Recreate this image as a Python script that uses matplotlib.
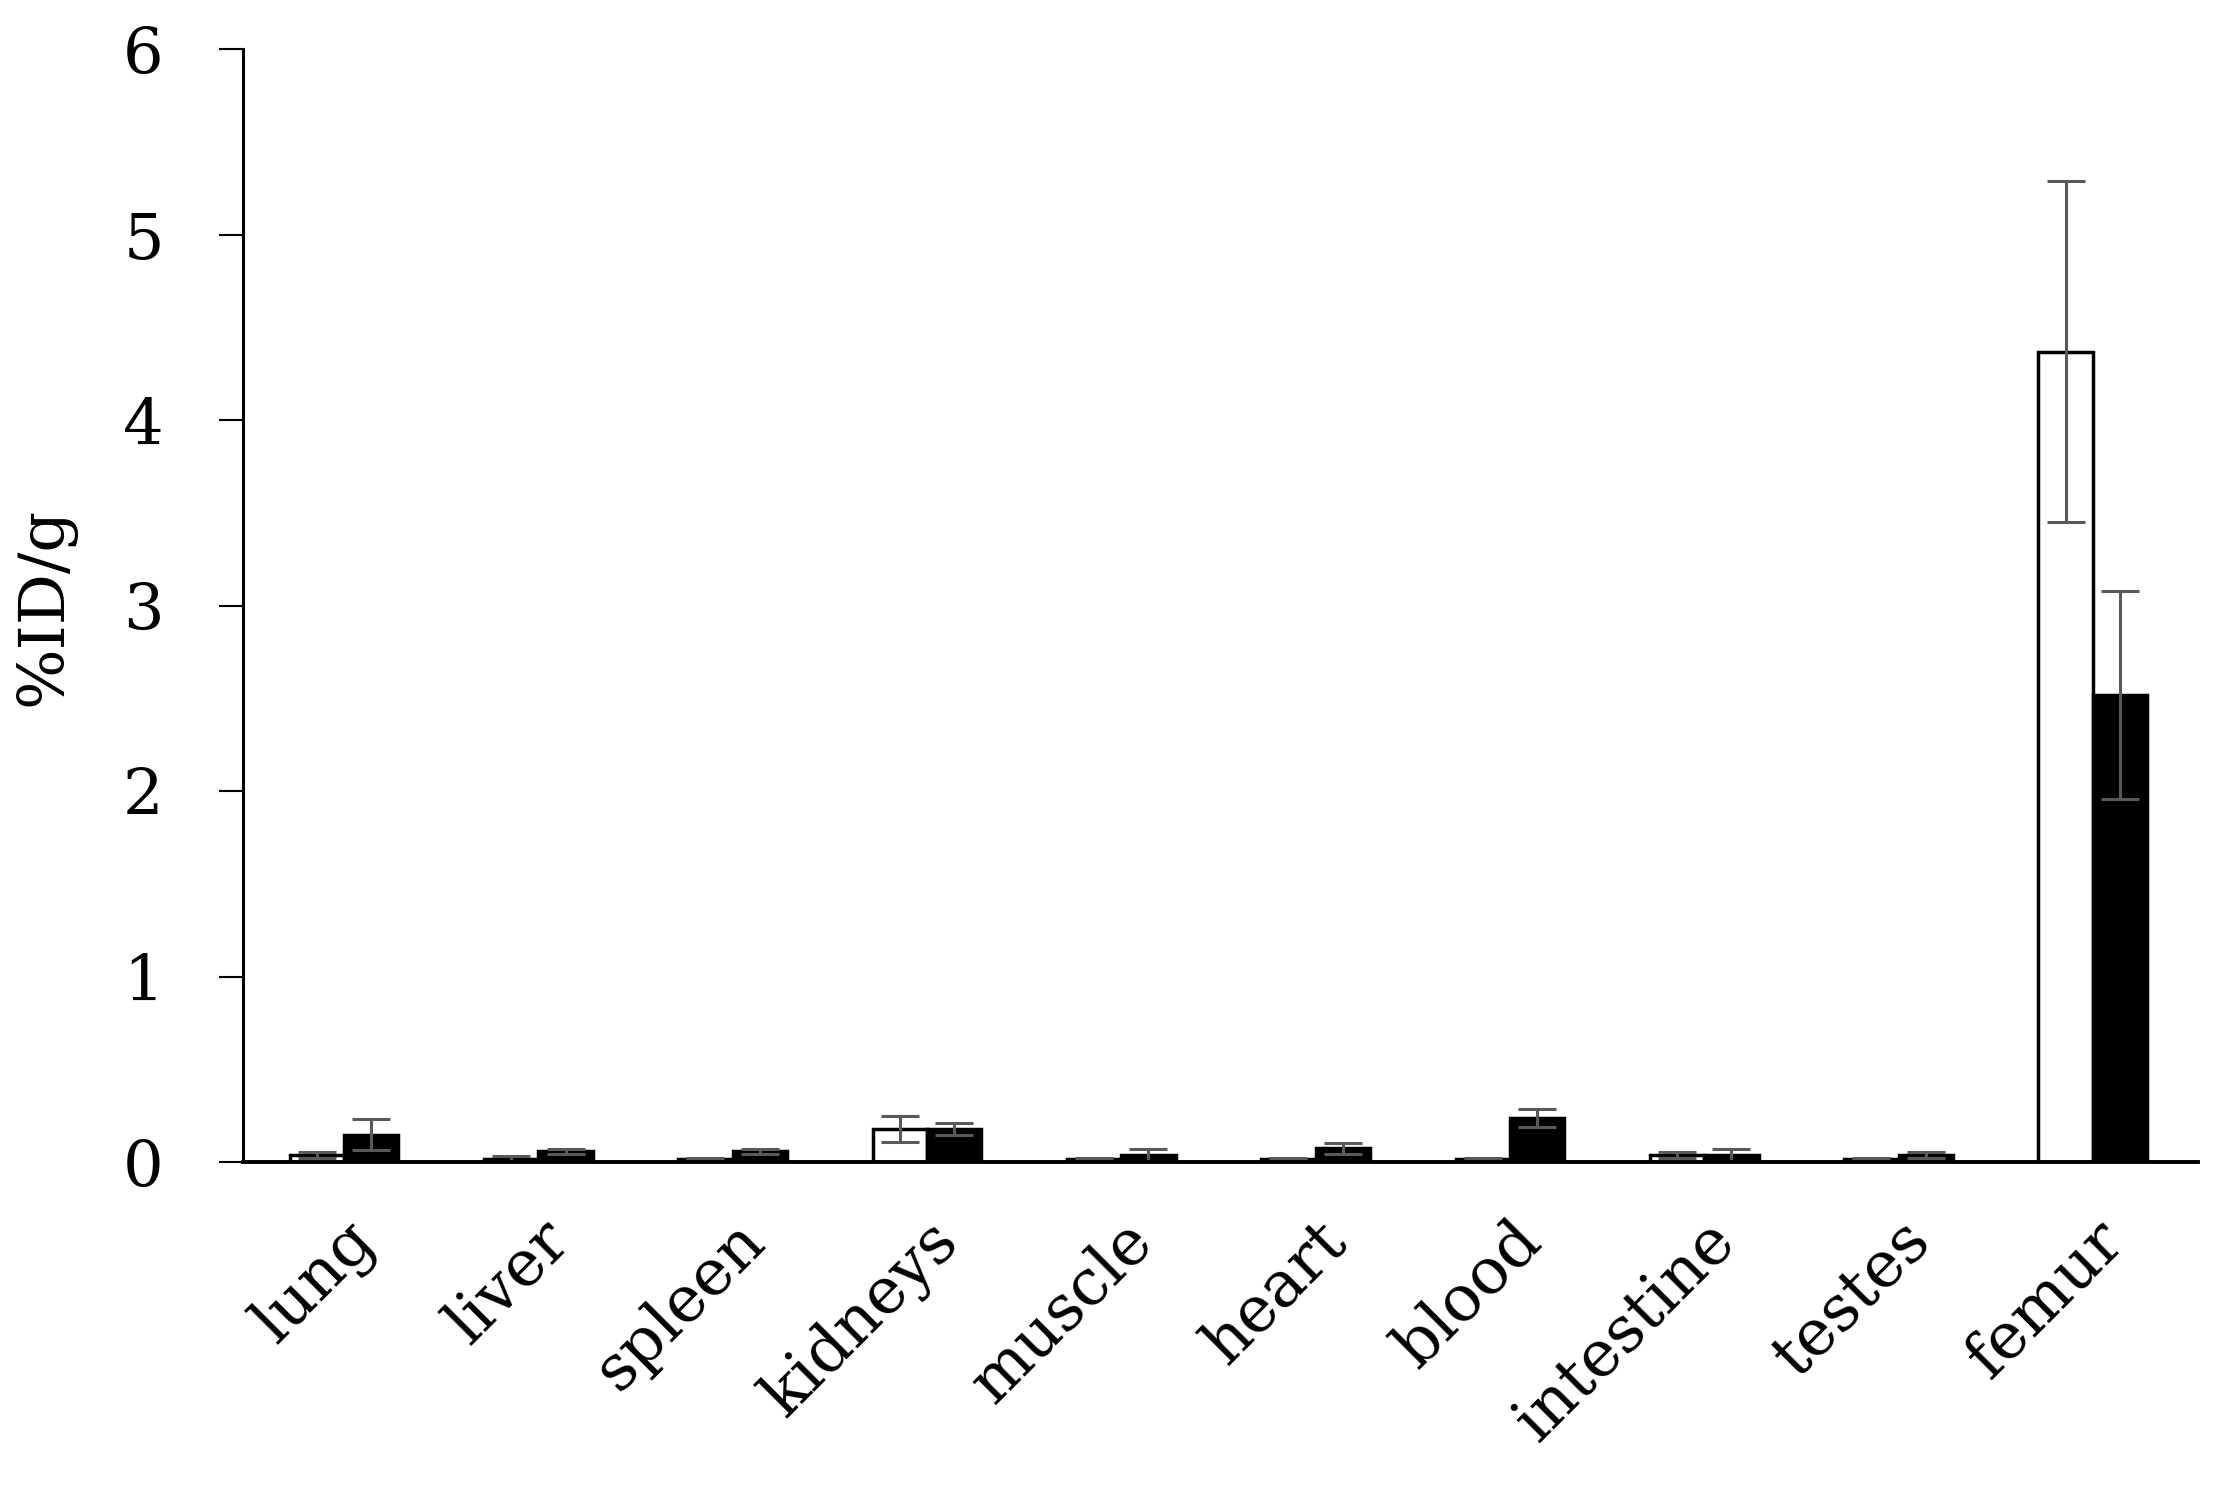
import matplotlib.pyplot as plt
import numpy as np

# Biodistribution data (%ID/g)
organs = ["lung", "liver", "spleen", "kidneys", "muscle",
          "heart", "blood", "intestine", "testes", "femur"]
white_vals = [0.04, 0.02, 0.02, 0.18, 0.02, 0.02, 0.02, 0.04, 0.02, 4.37]
white_err = [0.015, 0.015, 0.005, 0.07, 0.005, 0.005, 0.005, 0.015, 0.005, 0.92]
black_vals = [0.15, 0.06, 0.06, 0.18, 0.04, 0.077, 0.24, 0.04, 0.04, 2.52]
black_err = [0.085, 0.015, 0.015, 0.03, 0.03, 0.03, 0.05, 0.03, 0.015, 0.56]

plt.rcParams['font.family'] = ['DejaVu Serif']

fig = plt.figure(figsize=(22.29, 14.98), dpi=100)
ax = fig.add_axes([0.109, 0.224, 0.877, 0.743])

x = np.arange(len(organs))
w = 0.28
err_kw = dict(ecolor="#595959", elinewidth=2.2, capsize=14, capthick=2.2)
ax.bar(x - w / 2, white_vals, w, yerr=white_err, color="white",
       edgecolor="black", linewidth=2.5, error_kw=err_kw)
ax.bar(x + w / 2, black_vals, w, yerr=black_err, color="black",
       edgecolor="black", linewidth=2.5, error_kw=err_kw)

ax.set_xlim(-0.52, 9.54)
ax.set_ylim(0, 6)
ax.set_yticks(range(7))
ax.set_xticks(x)
ax.set_xticklabels(organs, rotation=45, ha="right", rotation_mode="anchor")
ax.tick_params(axis="x", length=0, pad=34, labelsize=46)
ax.tick_params(axis="y", direction="out", length=17, width=1.5, pad=40, labelsize=46)
ax.set_ylabel("%ID/g", fontsize=46, labelpad=34)

for s in ["top", "right"]:
    ax.spines[s].set_visible(False)
ax.spines["left"].set_linewidth(2.2)
ax.spines["bottom"].set_linewidth(2.8)

plt.savefig("out.png", dpi=100)
